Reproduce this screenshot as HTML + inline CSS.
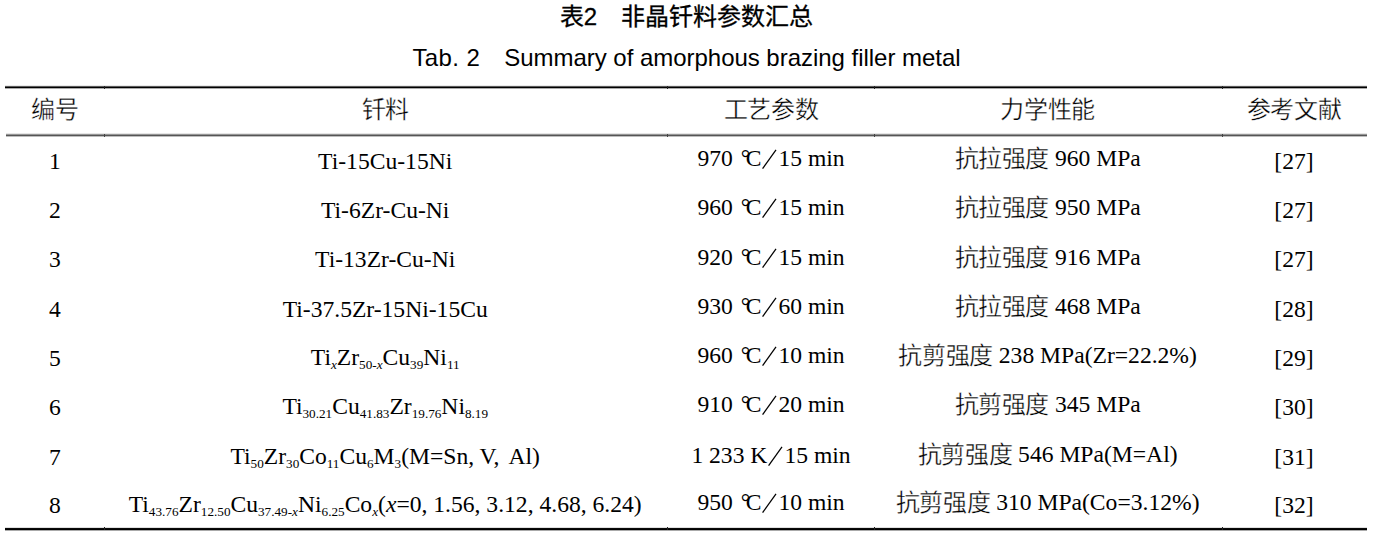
<!DOCTYPE html>
<html lang="zh-CN"><head><meta charset="utf-8">
<style>
html,body{margin:0;padding:0;background:#fff;}
body{width:1373px;height:537px;position:relative;overflow:hidden;font-family:"Liberation Serif",serif;color:#000;}
.c{position:absolute;width:800px;text-align:center;font-size:23.6px;line-height:24px;height:24px;white-space:nowrap;}
.c sub{font-size:13.2px;vertical-align:-4.2px;line-height:0;}
.k{font-size:24px;vertical-align:-1.4px;line-height:0;letter-spacing:-0.4px;-webkit-text-stroke:0.35px #fff;}
.kh{vertical-align:0.1px;}
.dc{letter-spacing:-4.5px;margin-left:2.0px;}
.sl{vertical-align:-5px;margin:0 -1px 0 0;}
.cap{position:absolute;left:0;width:1373px;text-align:center;font-family:"Liberation Sans",sans-serif;font-size:24px;line-height:24px;}
.cap1{top:5px;-webkit-text-stroke:0.3px #000;}
.cap2{top:46px;}
.rule{position:absolute;left:5px;width:1362px;background:#000;}
.n{position:absolute;width:1.5px;}
</style></head><body>
<div class="cap cap1">表2&emsp;非晶钎料参数汇总</div>
<div class="cap cap2"><span style="letter-spacing:0.4px">Tab. 2</span>&emsp;<span style="letter-spacing:-0.03px">Summary of amorphous brazing filler metal</span></div>
<div class="rule" style="top:85px;height:4px;background:linear-gradient(#ebebeb 0 1px,#5a5a5a 1px 2px,#000 2px 3px,#aaa 3px 4px)"></div>
<div class="rule" style="top:133px;height:4px;left:6px;width:1361px;background:linear-gradient(#e6e6e6 0 1px,#969696 1px 2px,#555 2px 3px,#bebebe 3px 4px)"></div>
<div class="rule" style="top:527px;height:4px;background:linear-gradient(#e0e0e0 0 1px,#0a0a0a 1px 2px,#000 2px 3px,#aaa 3px 4px)"></div>
<div class="n" style="left:103.5px;top:85.5px;height:3px;background:#222"></div><div class="n" style="left:103.5px;top:133.5px;height:3px;background:#444"></div><div class="n" style="left:103.5px;top:527px;height:3px;background:#222"></div><div class="n" style="left:666.5px;top:85.5px;height:3px;background:#222"></div><div class="n" style="left:666.5px;top:133.5px;height:3px;background:#444"></div><div class="n" style="left:666.5px;top:527px;height:3px;background:#222"></div><div class="n" style="left:873.5px;top:85.5px;height:3px;background:#222"></div><div class="n" style="left:873.5px;top:133.5px;height:3px;background:#444"></div><div class="n" style="left:873.5px;top:527px;height:3px;background:#222"></div><div class="n" style="left:1221.5px;top:85.5px;height:3px;background:#222"></div><div class="n" style="left:1221.5px;top:133.5px;height:3px;background:#444"></div><div class="n" style="left:1221.5px;top:527px;height:3px;background:#222"></div>
<div class="c" style="left:-345.2px;top:98.04px"><span class="k kh">编号</span></div>
<div class="c" style="left:-14.8px;top:98.04px"><span class="k kh">钎料</span></div>
<div class="c" style="left:371.0px;top:98.04px"><span class="k kh">工艺参数</span></div>
<div class="c" style="left:647.7px;top:98.04px"><span class="k kh">力学性能</span></div>
<div class="c" style="left:894.0px;top:98.04px"><span class="k kh">参考文献</span></div>
<div class="c" style="left:-345.2px;top:149.34px">1</div>
<div class="c" style="left:-14.8px;top:149.34px">Ti-15Cu-15Ni</div>
<div class="c" style="left:371.0px;top:146.44px">970 <span class="dc">°</span>C<svg class="sl" width="18" height="24" viewBox="0 0 18 24"><line x1="1.6" y1="21.6" x2="15.0" y2="2.9" stroke="#000" stroke-width="1.25"/></svg>15 min</div>
<div class="c" style="left:647.7px;top:146.04px"><span class="k">抗拉强度</span> 960 MPa</div>
<div class="c" style="left:894.0px;top:149.34px">[27]</div>
<div class="c" style="left:-345.2px;top:198.44px">2</div>
<div class="c" style="left:-14.8px;top:198.24px">Ti-6Zr-Cu-Ni</div>
<div class="c" style="left:371.0px;top:195.04px">960 <span class="dc">°</span>C<svg class="sl" width="18" height="24" viewBox="0 0 18 24"><line x1="1.6" y1="21.6" x2="15.0" y2="2.9" stroke="#000" stroke-width="1.25"/></svg>15 min</div>
<div class="c" style="left:647.7px;top:195.04px"><span class="k">抗拉强度</span> 950 MPa</div>
<div class="c" style="left:894.0px;top:198.44px">[27]</div>
<div class="c" style="left:-345.2px;top:247.04px">3</div>
<div class="c" style="left:-14.8px;top:247.24px">Ti-13Zr-Cu-Ni</div>
<div class="c" style="left:371.0px;top:244.94px">920 <span class="dc">°</span>C<svg class="sl" width="18" height="24" viewBox="0 0 18 24"><line x1="1.6" y1="21.6" x2="15.0" y2="2.9" stroke="#000" stroke-width="1.25"/></svg>15 min</div>
<div class="c" style="left:647.7px;top:244.94px"><span class="k">抗拉强度</span> 916 MPa</div>
<div class="c" style="left:894.0px;top:247.04px">[27]</div>
<div class="c" style="left:-345.2px;top:297.44px">4</div>
<div class="c" style="left:-14.8px;top:297.24px">Ti-37.5Zr-15Ni-15Cu</div>
<div class="c" style="left:371.0px;top:294.44px">930 <span class="dc">°</span>C<svg class="sl" width="18" height="24" viewBox="0 0 18 24"><line x1="1.6" y1="21.6" x2="15.0" y2="2.9" stroke="#000" stroke-width="1.25"/></svg>60 min</div>
<div class="c" style="left:647.7px;top:294.24px"><span class="k">抗拉强度</span> 468 MPa</div>
<div class="c" style="left:894.0px;top:297.24px">[28]</div>
<div class="c" style="left:-345.2px;top:346.34px">5</div>
<div class="c" style="left:-14.8px;top:345.14px">Ti<sub><i>x</i></sub>Zr<sub>50-<i>x</i></sub>Cu<sub>39</sub>Ni<sub>11</sub></div>
<div class="c" style="left:371.0px;top:343.44px">960 <span class="dc">°</span>C<svg class="sl" width="18" height="24" viewBox="0 0 18 24"><line x1="1.6" y1="21.6" x2="15.0" y2="2.9" stroke="#000" stroke-width="1.25"/></svg>10 min</div>
<div class="c" style="left:647.7px;top:343.44px"><span class="k">抗剪强度</span> 238 MPa(Zr=22.2%)</div>
<div class="c" style="left:894.0px;top:346.34px">[29]</div>
<div class="c" style="left:-345.2px;top:395.24px">6</div>
<div class="c" style="left:-14.8px;top:394.24px">Ti<sub>30.21</sub>Cu<sub>41.83</sub>Zr<sub>19.76</sub>Ni<sub>8.19</sub></div>
<div class="c" style="left:371.0px;top:392.24px">910 <span class="dc">°</span>C<svg class="sl" width="18" height="24" viewBox="0 0 18 24"><line x1="1.6" y1="21.6" x2="15.0" y2="2.9" stroke="#000" stroke-width="1.25"/></svg>20 min</div>
<div class="c" style="left:647.7px;top:392.04px"><span class="k">抗剪强度</span> 345 MPa</div>
<div class="c" style="left:894.0px;top:395.24px">[30]</div>
<div class="c" style="left:-345.2px;top:445.04px">7</div>
<div class="c" style="left:-14.8px;top:444.24px">Ti<sub>50</sub>Zr<sub>30</sub>Co<sub>11</sub>Cu<sub>6</sub>M<sub>3</sub>(M=Sn, V,<span style='margin-left:4.4px'> </span>Al)</div>
<div class="c" style="left:371.0px;top:442.84px">1 233 K<svg class="sl" width="18" height="24" viewBox="0 0 18 24"><line x1="1.6" y1="21.6" x2="15.0" y2="2.9" stroke="#000" stroke-width="1.25"/></svg>15 min</div>
<div class="c" style="left:647.7px;top:442.24px"><span class="k">抗剪强度</span> 546 MPa(M=Al)</div>
<div class="c" style="left:894.0px;top:445.04px">[31]</div>
<div class="c" style="left:-345.2px;top:493.14px">8</div>
<div class="c" style="left:-14.8px;top:492.24px">Ti<sub>43.76</sub>Zr<sub>12.50</sub>Cu<sub>37.49-<i>x</i></sub>Ni<sub>6.25</sub>Co<sub><i>x</i></sub>(<i>x</i>=0, 1.56, 3.12, 4.68, 6.24)</div>
<div class="c" style="left:371.0px;top:490.24px">950 <span class="dc">°</span>C<svg class="sl" width="18" height="24" viewBox="0 0 18 24"><line x1="1.6" y1="21.6" x2="15.0" y2="2.9" stroke="#000" stroke-width="1.25"/></svg>10 min</div>
<div class="c" style="left:647.7px;top:490.04px"><span class="k">抗剪强度</span> 310 MPa(Co=3.12%)</div>
<div class="c" style="left:894.0px;top:493.14px">[32]</div>
</body></html>
